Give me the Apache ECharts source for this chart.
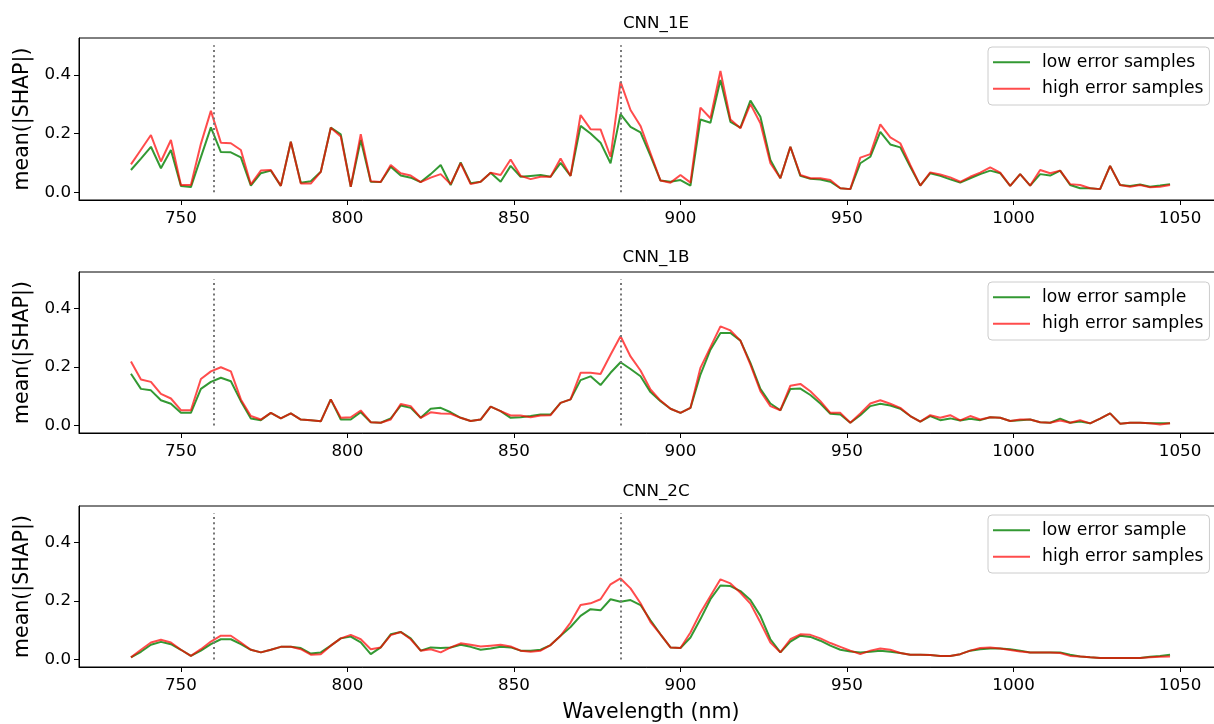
<!DOCTYPE html>
<html>
<head>
<meta charset="UTF-8">
<title>mean(|SHAP|) per wavelength</title>
<script src="https://cdn.jsdelivr.net/npm/echarts@6/dist/echarts.min.js"></script>
<style>
  html, body { margin: 0; padding: 0; background: #fff; }
  #chart { width: 1214px; height: 724px; }
</style>
</head>
<body>
<div id="chart"></div>
<script>
// wavelengths (nm), one band every 3 nm
var wavelengths = [735, 738, 741, 744, 747, 750, 753, 756, 759, 762, 765, 768, 771, 774, 777, 780, 783, 786, 789, 792,
  795, 798, 801, 804, 807, 810, 813, 816, 819, 822, 825, 828, 831, 834, 837, 840, 843, 846, 849, 852,
  855, 858, 861, 864, 867, 870, 873, 876, 879, 882, 885, 888, 891, 894, 897, 900, 903, 906, 909, 912,
  915, 918, 921, 924, 927, 930, 933, 936, 939, 942, 945, 948, 951, 954, 957, 960, 963, 966, 969, 972,
  975, 978, 981, 984, 987, 990, 993, 996, 999, 1002, 1005, 1008, 1011, 1014, 1017, 1020, 1023, 1026, 1029, 1032,
  1035, 1038, 1041, 1044, 1047];

// CNN_1E
var low1E = [0.076, 0.115, 0.155, 0.082, 0.144, 0.022, 0.018, 0.12, 0.221, 0.137, 0.136, 0.119, 0.023, 0.065, 0.074, 0.022, 0.172, 0.033, 0.038, 0.07,
  0.22, 0.197, 0.019, 0.178, 0.036, 0.035, 0.087, 0.057, 0.05,
  0.035, 0.062, 0.093, 0.025, 0.102, 0.031, 0.036, 0.067, 0.036, 0.09, 0.053, 0.056, 0.059, 0.053, 0.1, 0.056, 0.226, 0.2, 0.169, 0.099,
  0.266, 0.223, 0.204, 0.124, 0.04, 0.036, 0.042, 0.023, 0.248, 0.237, 0.382, 0.24, 0.22, 0.312, 0.257, 0.11, 0.048, 0.155, 0.056,
  0.046, 0.044, 0.036, 0.014, 0.011, 0.099, 0.121, 0.206, 0.163, 0.153, 0.087, 0.023, 0.065, 0.056, 0.044, 0.033, 0.048, 0.062, 0.074, 0.065,
  0.022, 0.062, 0.023, 0.062, 0.057, 0.074, 0.025, 0.014, 0.014, 0.011, 0.09, 0.025, 0.022, 0.027, 0.019, 0.023, 0.028];
var high1E = [0.095, 0.145, 0.195, 0.105, 0.178, 0.025, 0.025, 0.165, 0.277, 0.169, 0.167, 0.144, 0.027, 0.074, 0.076, 0.022, 0.172, 0.03, 0.03, 0.07,
  0.22, 0.19, 0.019, 0.198, 0.038, 0.035, 0.093, 0.065, 0.057,
  0.035, 0.05, 0.062, 0.028, 0.099, 0.028, 0.036, 0.067, 0.059, 0.112, 0.056, 0.045, 0.053, 0.053, 0.115, 0.056, 0.263, 0.215, 0.214, 0.121,
  0.376, 0.28, 0.226, 0.133, 0.04, 0.033, 0.059, 0.033, 0.288, 0.252, 0.413, 0.248, 0.218, 0.3, 0.235, 0.099, 0.048, 0.155, 0.059,
  0.048, 0.048, 0.042, 0.014, 0.011, 0.118, 0.13, 0.231, 0.187, 0.167, 0.093, 0.023, 0.068, 0.061, 0.051, 0.036, 0.053, 0.067, 0.085, 0.067,
  0.022, 0.062, 0.023, 0.076, 0.065, 0.074, 0.028, 0.025, 0.014, 0.011, 0.09, 0.025, 0.019, 0.025, 0.017, 0.019, 0.025];

// CNN_1B
var low1B = [0.177, 0.125, 0.12, 0.086, 0.074, 0.043, 0.043, 0.125, 0.149, 0.163, 0.151, 0.083, 0.024, 0.018, 0.043, 0.024, 0.041, 0.02, 0.018, 0.014,
  0.089, 0.02, 0.02, 0.045, 0.011, 0.009, 0.024, 0.068, 0.06,
  0.026, 0.057, 0.06, 0.045, 0.026, 0.015, 0.02, 0.064, 0.049, 0.026, 0.028, 0.032, 0.037, 0.037, 0.077, 0.089, 0.155, 0.168, 0.138, 0.18,
  0.216, 0.193, 0.168, 0.114, 0.083, 0.057, 0.043, 0.06, 0.174, 0.259, 0.316, 0.316, 0.29, 0.214, 0.125, 0.075, 0.052, 0.125, 0.126,
  0.104, 0.075, 0.04, 0.037, 0.009, 0.035, 0.066, 0.074, 0.068, 0.057, 0.032, 0.013, 0.032, 0.018, 0.024, 0.017, 0.023, 0.018, 0.028, 0.026,
  0.015, 0.018, 0.02, 0.011, 0.009, 0.023, 0.009, 0.013, 0.007, 0.023, 0.041, 0.006, 0.009, 0.009, 0.007, 0.007, 0.007];
var high1B = [0.219, 0.157, 0.149, 0.108, 0.092, 0.052, 0.052, 0.159, 0.185, 0.199, 0.185, 0.089, 0.032, 0.02, 0.043, 0.024, 0.041, 0.02, 0.018, 0.014,
  0.089, 0.026, 0.028, 0.051, 0.011, 0.009, 0.02, 0.073, 0.066,
  0.026, 0.045, 0.041, 0.04, 0.026, 0.015, 0.02, 0.064, 0.049, 0.034, 0.034, 0.028, 0.034, 0.035, 0.077, 0.089, 0.18, 0.18, 0.176, 0.242,
  0.305, 0.236, 0.188, 0.123, 0.085, 0.057, 0.043, 0.06, 0.197, 0.268, 0.339, 0.325, 0.29, 0.208, 0.117, 0.066, 0.052, 0.136, 0.142,
  0.117, 0.083, 0.043, 0.043, 0.009, 0.041, 0.075, 0.086, 0.074, 0.06, 0.032, 0.013, 0.035, 0.026, 0.035, 0.017, 0.032, 0.02, 0.028, 0.026,
  0.015, 0.02, 0.02, 0.011, 0.009, 0.017, 0.009, 0.018, 0.007, 0.023, 0.041, 0.006, 0.009, 0.009, 0.007, 0.003, 0.007];

// CNN_2C
var low2C = [0.007, 0.026, 0.05, 0.06, 0.052, 0.033, 0.012, 0.03, 0.052, 0.069, 0.069, 0.052, 0.033, 0.024, 0.033, 0.043, 0.043, 0.039, 0.02, 0.024,
  0.047, 0.072, 0.078, 0.058, 0.018, 0.041, 0.086, 0.094, 0.072,
  0.03, 0.041, 0.039, 0.041, 0.05, 0.043, 0.033, 0.037, 0.043, 0.041, 0.03, 0.03, 0.033, 0.049, 0.081, 0.111, 0.149, 0.172, 0.168, 0.206,
  0.197, 0.203, 0.186, 0.134, 0.086, 0.041, 0.039, 0.075, 0.138, 0.206, 0.253, 0.251, 0.234, 0.203, 0.149, 0.069, 0.024, 0.061, 0.081,
  0.077, 0.064, 0.047, 0.033, 0.027, 0.024, 0.026, 0.03, 0.026, 0.022, 0.016, 0.016, 0.015, 0.012, 0.012, 0.018, 0.03, 0.035, 0.037, 0.037,
  0.035, 0.03, 0.024, 0.024, 0.024, 0.024, 0.016, 0.01, 0.007, 0.005, 0.005, 0.005, 0.005, 0.005, 0.009, 0.012, 0.016];
var high2C = [0.007, 0.033, 0.058, 0.067, 0.058, 0.033, 0.012, 0.035, 0.061, 0.081, 0.081, 0.058, 0.033, 0.024, 0.033, 0.043, 0.043, 0.035, 0.016, 0.018,
  0.047, 0.072, 0.084, 0.069, 0.035, 0.041, 0.083, 0.094, 0.069,
  0.03, 0.035, 0.024, 0.041, 0.055, 0.05, 0.044, 0.047, 0.05, 0.044, 0.03, 0.026, 0.03, 0.049, 0.081, 0.126, 0.186, 0.192, 0.206, 0.257,
  0.277, 0.243, 0.192, 0.128, 0.086, 0.041, 0.039, 0.092, 0.16, 0.217, 0.274, 0.26, 0.228, 0.191, 0.126, 0.058, 0.024, 0.069, 0.086,
  0.084, 0.072, 0.056, 0.043, 0.03, 0.018, 0.03, 0.037, 0.033, 0.022, 0.016, 0.016, 0.015, 0.012, 0.012, 0.018, 0.03, 0.039, 0.041, 0.037,
  0.032, 0.027, 0.024, 0.024, 0.024, 0.022, 0.012, 0.01, 0.007, 0.005, 0.005, 0.005, 0.005, 0.005, 0.007, 0.009, 0.01];

var markerLines = [760, 882];
var xTicks = [750, 800, 850, 900, 950, 1000, 1050];
var yTicks = [0, 0.2, 0.4];

var panels = [
  { title: 'CNN_1E', lowName: 'low error samples', low: low1E, high: high1E },
  { title: 'CNN_1B', lowName: 'low error sample', low: low1B, high: high1B },
  { title: 'CNN_2C', lowName: 'low error sample', low: low2C, high: high2C }
];

var font = 'DejaVu Sans';
var tops = [38, 272, 506];
var heights = [162, 161, 161];
var legendTops = [47, 282, 515];

function pairs(vals) {
  return wavelengths.map(function (w, i) { return [w, vals[i]]; });
}

var option = {
  animation: false,
  backgroundColor: '#fff',
  textStyle: { fontFamily: font },
  title: [], grid: [], xAxis: [], yAxis: [], legend: [], series: []
};

panels.forEach(function (p, k) {
  option.title.push({
    text: p.title, left: 651, top: tops[k] - 28, textAlign: 'center',
    textStyle: { fontFamily: font, fontSize: 16.7, fontWeight: 'normal', color: '#000' }
  });
  option.grid.push({
    left: 79, top: tops[k], width: 1144, height: heights[k],
    outerBoundsMode: 'none', containLabel: false,
    show: true, borderColor: '#000', borderWidth: 1, backgroundColor: 'transparent'
  });
  var xa = {
    type: 'value', gridIndex: k, min: 719.4, max: 1062.9,
    axisLine: { onZero: false, lineStyle: { color: '#000', width: 1 } },
    axisTick: { show: true, length: 5, customValues: xTicks, lineStyle: { color: '#000' } },
    axisLabel: {
      customValues: xTicks, fontSize: 16.7, color: '#000', margin: 10, fontFamily: font,
      formatter: function (v) { return String(v); }
    },
    splitLine: { show: false }
  };
  if (k === 2) {
    xa.name = 'Wavelength (nm)';
    xa.nameLocation = 'middle';
    xa.nameGap = 35;
    xa.nameTextStyle = { fontSize: 20.5, color: '#000', fontFamily: font };
  }
  option.xAxis.push(xa);
  option.yAxis.push({
    type: 'value', gridIndex: k, min: -0.026, max: 0.525,
    name: 'mean(|SHAP|)', nameLocation: 'middle', nameGap: 42,
    nameTextStyle: { fontSize: 20.5, color: '#000', fontFamily: font },
    axisLine: { show: true, onZero: false, lineStyle: { color: '#000', width: 1 } },
    axisTick: { show: true, length: 5, customValues: yTicks, lineStyle: { color: '#000' } },
    axisLabel: {
      customValues: yTicks, fontSize: 16.7, color: '#000', margin: 8, fontFamily: font,
      formatter: function (v) { return v.toFixed(1); }
    },
    splitLine: { show: false }
  });
  option.legend.push({
    data: [p.lowName, 'high error samples'],
    orient: 'vertical', left: 988, top: legendTops[k],
    icon: 'rect', itemWidth: 37, itemHeight: 2, itemGap: 8,
    padding: [6, 6, 7, 5],
    backgroundColor: 'rgba(255,255,255,0.8)', borderColor: '#cccccc', borderWidth: 1, borderRadius: 4,
    textStyle: { fontSize: 17.2, lineHeight: 18.5, color: '#000', fontFamily: font, padding: [0, 0, 0, 7] }
  });
  option.series.push({
    type: 'line', name: p.lowName, xAxisIndex: k, yAxisIndex: k,
    data: pairs(p.low), symbol: 'none', z: 3,
    lineStyle: { color: '#008000', width: 2, opacity: 0.8 },
    itemStyle: { color: '#008000', opacity: 0.8 },
    markLine: {
      silent: true, symbol: 'none', animation: false,
      label: { show: false },
      lineStyle: { color: '#777777', width: 2, type: [2, 3.2], opacity: 1 },
      data: markerLines.map(function (m) { return [{ coord: [m, 0] }, { coord: [m, 0.5] }]; })
    }
  });
  option.series.push({
    type: 'line', name: 'high error samples', xAxisIndex: k, yAxisIndex: k,
    data: pairs(p.high), symbol: 'none', z: 4,
    lineStyle: { color: '#ff0000', width: 2, opacity: 0.7 },
    itemStyle: { color: '#ff0000', opacity: 0.7 }
  });
});

var chart = echarts.init(document.getElementById('chart'));
chart.setOption(option);
</script>
</body>
</html>
